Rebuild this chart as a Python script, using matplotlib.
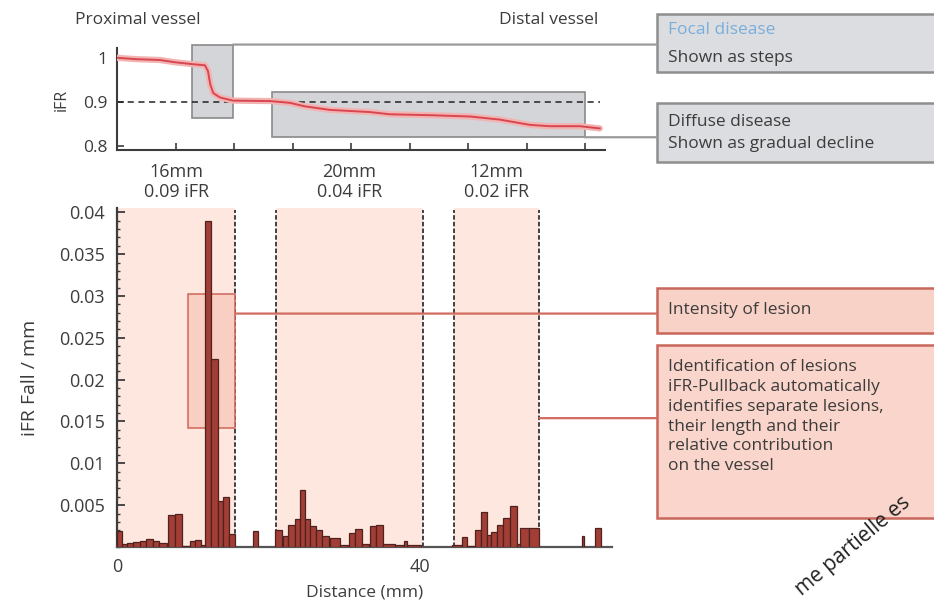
import numpy as np
import matplotlib.pyplot as plt
from matplotlib.patches import Rectangle, ConnectionPatch
from matplotlib.transforms import blended_transform_factory

plt.rcParams['font.family'] = ['Open Sans', 'DejaVu Sans']

# pullback trace: distance along the vessel (mm) and iFR
trace_mm = [0.0, 2.5, 5.7, 7.6, 10.3, 11.6, 12.0, 12.3, 12.7, 13.6, 15.3, 20.2,
            22.8, 24.8, 28.1, 33.4, 36.0, 41.3, 46.6, 50.5, 54.5, 57.1, 61.1, 63.7]
trace_ifr = [1.0, 0.997, 0.995, 0.99, 0.985, 0.983, 0.97, 0.94, 0.92, 0.91, 0.903, 0.902,
             0.898, 0.89, 0.882, 0.877, 0.872, 0.87, 0.867, 0.86, 0.848, 0.845, 0.845, 0.84]

# iFR fall per mm, one bar per pullback segment (left edge, width, height)
bar_left = [0.0, 0.7, 1.3, 2.1, 3.0, 3.8, 4.7, 5.6, 6.7, 7.7, 8.6, 9.6, 10.3, 11.1,
            11.6, 12.4, 13.3, 14.0, 14.8, 17.9,
            20.8, 21.9, 22.6, 23.5, 24.1, 24.8, 25.5, 26.3, 27.0, 28.1, 29.4, 30.6,
            31.4, 32.3, 33.4, 34.2, 35.1, 36.7, 37.9, 38.3,
            44.2, 45.5, 46.2, 47.2, 48.0, 48.8, 49.3, 50.1, 50.9, 51.8, 52.7, 53.2,
            54.4, 61.3, 63.0]
bar_width = [0.7, 0.6, 0.8, 0.9, 0.8, 0.9, 0.9, 1.0, 1.0, 0.9, 1.0, 0.7, 0.8, 0.5,
             0.8, 0.9, 0.7, 0.8, 0.8, 0.7,
             1.0, 0.7, 0.9, 0.7, 0.7, 0.7, 0.8, 0.8, 1.0, 1.3, 1.2, 0.8,
             0.9, 1.0, 0.8, 0.9, 1.6, 1.2, 0.4, 1.8,
             1.3, 0.7, 1.0, 0.8, 0.8, 0.5, 0.8, 0.8, 0.9, 0.9, 0.5, 1.2,
             1.2, 0.3, 0.8]
bar_fall = [0.0019, 0.0003, 0.0005, 0.0006, 0.0007, 0.0010, 0.0007, 0.0005, 0.0038,
            0.0040, 0.0001, 0.0007, 0.0008, 0.0002, 0.039, 0.0225, 0.0055, 0.0060,
            0.0016, 0.0019,
            0.0020, 0.0013, 0.0026, 0.0034, 0.0068, 0.0033, 0.0025, 0.0020, 0.0013,
            0.0011, 0.0002, 0.0017, 0.0021, 0.0003, 0.0025, 0.0026, 0.0004, 0.0002,
            0.0007, 0.0002,
            0.0002, 0.0012, 0.0001, 0.0020, 0.0042, 0.0014, 0.0018, 0.0026, 0.0035,
            0.0049, 0.0003, 0.0023, 0.0023, 0.0013, 0.0023]

# lesions found by the pullback
lesion_start = [0.0, 21.0, 44.4]
lesion_end = [15.6, 40.3, 55.7]
lesion_length = ['16mm', '20mm', '12mm']
lesion_drop = ['0.09 iFR', '0.04 iFR', '0.02 iFR']

dark = '#3c3c3c'
fig = plt.figure(figsize=(9.34, 6.05), dpi=100)
ax_top = fig.add_axes([0.1253, 0.752, 0.5225, 0.169])
ax = fig.add_axes([0.1253, 0.0959, 0.530, 0.560])

# ---- top: iFR along the vessel ----
ax_top.set_xlim(0, 64.4)
ax_top.set_ylim(0.791, 1.0227)
ax_top.add_patch(Rectangle((9.9, 0.864), 5.4, 0.166, facecolor='#d3d5d8', edgecolor='#8a8a8a',
                           lw=1.2, zorder=1, clip_on=False))
ax_top.add_patch(Rectangle((20.4, 0.820), 41.3, 0.103, facecolor='#d3d5d8', edgecolor='#8a8a8a',
                           lw=1.2, zorder=1, clip_on=False))
ax_top.axhline(0.9, xmax=0.99, color='#222222', lw=1.1, ls=(0, (4, 3)), zorder=2)
ax_top.plot(trace_mm, trace_ifr, color='#f2b3b3', lw=4.5, zorder=3, solid_capstyle='round')
ax_top.plot(trace_mm, trace_ifr, color='#d8474f', lw=1.4, zorder=4)
ax_top.set_yticks([0.8, 0.9, 1.0])
ax_top.set_yticklabels(['0.8', '0.9', '1'])
ax_top.set_xticks(np.arange(9) * 7.72)
ax_top.set_xticklabels([])
ax_top.tick_params(direction='in', length=5, width=1.2, color=dark, labelsize=12.5,
                   labelcolor=dark, pad=7)
for side in ['top', 'right']:
    ax_top.spines[side].set_visible(False)
for side in ['left', 'bottom']:
    ax_top.spines[side].set_color(dark)
    ax_top.spines[side].set_linewidth(1.5)

fig.text(75 / 934, 1 - 20 / 605, 'Proximal vessel', fontsize=12.5, color=dark, va='center')
fig.text(598 / 934, 1 - 20 / 605, 'Distal vessel', fontsize=12.5, color=dark, va='center',
         ha='right')
fig.text(62 / 934, 1 - 100 / 605, 'iFR', fontsize=11.5, color=dark, va='center', ha='center',
         rotation=90)

# ---- bottom: iFR fall per mm ----
ax.set_xlim(0, 65.3)
ax.set_ylim(0, 0.0405)
for x0, x1, length, drop in zip(lesion_start, lesion_end, lesion_length, lesion_drop):
    ax.axvspan(x0, x1, color='#fde7de', zorder=0, lw=0)
    for xb in (x0, x1):
        if xb > 0:
            ax.axvline(xb, ymax=0.995, color='#333333', lw=1.3, ls=(0, (2.5, 1.2)), zorder=1)
    ax.text((x0 + x1) / 2, 1.02, length + '\n' + drop, transform=blended_transform_factory(
        ax.transData, ax.transAxes), ha='center', va='bottom', fontsize=13, color=dark,
        linespacing=1.2)

# intensity marker around the focal spike
ax.add_patch(Rectangle((9.4, 0.0142), 6.2, 0.016, facecolor='#f9cdc0', edgecolor='#cf6257',
                       lw=1.2, alpha=0.9, zorder=2))

ax.bar(bar_left, bar_fall, width=bar_width, align='edge', facecolor='#a23e35',
       edgecolor='#4f2220', lw=0.9, zorder=3)

ax.set_yticks(np.arange(0.005, 0.0401, 0.005))
ax.set_yticklabels(['0.005', '0.01', '0.015', '0.02', '0.025', '0.03', '0.035', '0.04'])
ax.set_yticks(np.arange(0, 0.0405, 0.001), minor=True)
ax.set_xticks([0, 40])
ax.set_xticklabels(['0', '40'])
ax.tick_params(axis='y', which='major', direction='in', length=6, width=1.3, color=dark,
               labelsize=13, labelcolor=dark, pad=9)
ax.tick_params(axis='y', which='minor', direction='in', length=2.5, width=1.0, color=dark)
ax.tick_params(axis='x', length=0, labelsize=13, labelcolor=dark, pad=8)
for side in ['top', 'right']:
    ax.spines[side].set_visible(False)
ax.spines['left'].set_color(dark)
ax.spines['left'].set_linewidth(1.6)
ax.spines['bottom'].set_color('#555555')
ax.spines['bottom'].set_linewidth(1.6)
ax.set_xlabel('Distance (mm)', fontsize=12.5, color=dark, labelpad=6)
fig.text(30 / 934, 1 - 378 / 605, 'iFR Fall / mm', fontsize=14, color=dark, va='center',
         ha='center', rotation=90)

# ---- annotation boxes on the right ----
box_left = 657 / 934
boxes = [
    (1 - 72 / 605, 58 / 605, '#dcdde0', '#8e8e8e'),
    (1 - 162 / 605, 59 / 605, '#dcdde0', '#8e8e8e'),
    (1 - 333 / 605, 45 / 605, '#f9d2c7', '#c8675b'),
    (1 - 518 / 605, 173 / 605, '#fad5cb', '#c8675b'),
]
for y0, h, fc, ec in boxes:
    fig.add_artist(Rectangle((box_left, y0), 0.35, h, transform=fig.transFigure,
                             facecolor=fc, edgecolor=ec, lw=1.8))

tx = 668 / 934
fs = 12.5
fig.text(tx, 1 - 30 / 605, 'Focal disease', fontsize=fs, color='#7aaedb', va='center')
fig.text(tx, 1 - 58 / 605, 'Shown as steps', fontsize=fs, color=dark, va='center')
fig.text(tx, 1 - 122 / 605, 'Diffuse disease', fontsize=fs, color=dark, va='center')
fig.text(tx, 1 - 144 / 605, 'Shown as gradual decline', fontsize=fs, color=dark, va='center')
fig.text(tx, 1 - 310 / 605, 'Intensity of lesion', fontsize=fs, color=dark, va='center')
fig.text(tx, 1 - 359 / 605, 'Identification of lesions\niFR-Pullback automatically\n'
         'identifies separate lesions,\ntheir length and their\nrelative contribution\n'
         'on the vessel', fontsize=fs, color=dark, va='top', linespacing=1.32)

# connectors from the marked regions to their boxes
links = [
    (ax_top, (15.3, 1.030), '#9a9a9a'),
    (ax_top, (61.7, 0.820), '#9a9a9a'),
    (ax, (15.6, 0.0279), '#d26b60'),
    (ax, (55.7, 0.0154), '#d26b60'),
]
for axis, (xa, ya), col in links:
    con = ConnectionPatch(xyA=(xa, ya), coordsA=axis.transData, xyB=(box_left, ya),
                          coordsB=blended_transform_factory(fig.transFigure, axis.transData),
                          color=col, lw=1.6, zorder=3)
    fig.add_artist(con)

fig.text(802 / 934, 1 - 596 / 605, 'me partielle es', fontsize=15, color='#222222',
         rotation=40, rotation_mode='anchor', ha='left', va='baseline')

fig.savefig('out.png', dpi=100)
